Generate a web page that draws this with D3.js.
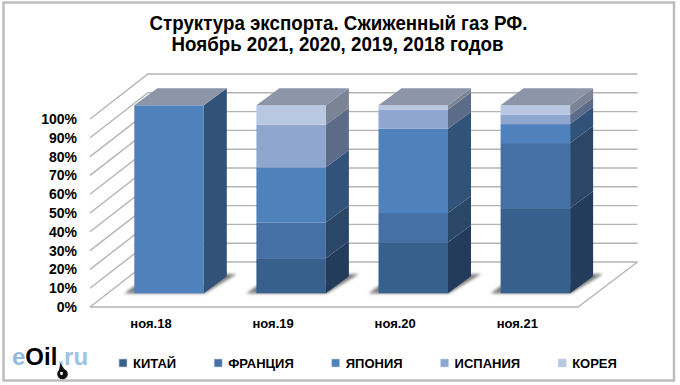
<!DOCTYPE html>
<html><head><meta charset="utf-8">
<script src="https://cdnjs.cloudflare.com/ajax/libs/d3/7.8.5/d3.min.js"></script>
<style>html,body{margin:0;background:#fff}svg{display:block}text{font-family:"Liberation Sans",Arial,sans-serif;fill:#000}</style>
</head><body><svg id="c" width="680" height="385"></svg>
<script>
const categories = ["ноя.18","ноя.19","ноя.20","ноя.21"];
const seriesNames = ["КИТАЙ","ФРАНЦИЯ","ЯПОНИЯ","ИСПАНИЯ","КОРЕЯ"];
const china  = [0, 18.7, 27.2, 45.3];
const france = [0, 19.0, 15.5, 34.6];
const japan  = [100, 29.3, 44.8, 10.1];
const spain  = [0, 22.7, 10.3, 5.0];
const korea  = [0, 10.3, 2.2, 5.0];
const frontColors = ["#38608c","#4470a6","#4f81bd","#8fa6cf","#b9c8e2"];
const sideColors  = ["#243c5c","#2b4768","#315279","#5c6b88","#7a8494"];
const topColor = "#8d95a9";
const titleLines = ["Структура экспорта. Сжиженный газ РФ.","Ноябрь 2021, 2020, 2019, 2018 годов"];
const tickValues = [0,10,20,30,40,50,60,70,80,90,100];

const svg = d3.select("#c");
const defs = svg.append("defs");
defs.append("filter").attr("id","blur").attr("x","-30%").attr("y","-60%").attr("width","160%").attr("height","220%")
  .append("feGaussianBlur").attr("stdDeviation",1.6);

svg.append("rect").attr("x",3.5).attr("y",2.5).attr("width",670.5).attr("height",378)
  .attr("fill","#fff").attr("stroke","#bdbdbd").attr("stroke-width",2.5);

svg.append("g").selectAll("text").data(titleLines).join("text")
  .attr("x",(d,i)=>i?337.5:338.5).attr("y",(d,i)=>30+i*21).attr("text-anchor","middle")
  .attr("font-size",19.5).attr("font-weight","bold").attr("textLength",(d,i)=>i?332:378)
  .attr("lengthAdjust","spacingAndGlyphs").text(d=>d);

// scales
const yFront = d3.scaleLinear().domain([0,100]).range([307,119]);
const wallDx = 58, wallDy = 45;
const floorRight = 578;
const barW = 69.5, barDx = 23, barDy = 17, barLift = 13.7;
const barX = d3.scalePoint().domain(categories).range([134.3,500.6]);

// walls
const grid = svg.append("g").attr("stroke","#b4b4b4").attr("stroke-width",1.4).attr("fill","none");
tickValues.forEach(t=>{
  const y0 = yFront(t);
  grid.append("path").attr("d",d3.line()([[90,y0],[90+wallDx,y0-wallDy],[floorRight+wallDx+1.5,y0-wallDy]]));
});
grid.append("path").attr("d",d3.line()([[90,307],[floorRight,307],[floorRight+wallDx+1.5,307-wallDy]]));

// tick labels
svg.append("g").selectAll("text").data(tickValues).join("text")
  .attr("x",77).attr("y",t=>yFront(t)+5).attr("text-anchor","end")
  .attr("font-size",14).attr("font-weight","bold").text(t=>t+"%");

// bars
const stack = d3.stack().keys([0,1,2,3,4]).value((row,k)=>row[k]);
const rows = categories.map((c,i)=>[china[i],france[i],japan[i],spain[i],korea[i]]);
const layers = stack(rows);
const yBar = v => yFront(v) - barLift;

categories.forEach((c,i)=>{
  const x0 = barX(c), x1 = x0+barW;
  const g = svg.append("g");
  g.append("path").attr("d",d3.line()([[x0-10,293.5],[x1+1,293.5],[x1+barDx+10,274],[x1+barDx-8,274],[x1,286],[x0,286]])+"Z")
    .attr("fill","#555").attr("opacity",.75).attr("filter","url(#blur)");
  layers.forEach((layer,k)=>{
    const [a,b] = layer[i];
    if (b-a<=0) return;
    g.append("path").attr("d",d3.line()([[x1,yBar(a)],[x1+barDx,yBar(a)-barDy],[x1+barDx,yBar(b)-barDy],[x1,yBar(b)]])+"Z")
      .attr("fill",sideColors[k]);
    g.append("rect").attr("x",x0).attr("y",yBar(b)).attr("width",barW).attr("height",yBar(a)-yBar(b))
      .attr("fill",frontColors[k]);
  });
  g.append("path").attr("d",d3.line()([[x0,yBar(100)],[x0+barDx,yBar(100)-barDy],[x1+barDx,yBar(100)-barDy],[x1,yBar(100)]])+"Z")
    .attr("fill",topColor);
  g.append("text").attr("x",x0+16.7).attr("y",327.5).attr("text-anchor","middle")
    .attr("font-size",13).attr("font-weight","bold").text(c);
});

// legend: each entry follows the width of the previous label
const lg = svg.append("g").selectAll("g").data(seriesNames).join("g");
lg.append("rect").attr("x",0).attr("y",359).attr("width",8).attr("height",8)
  .attr("fill",(d,i)=>frontColors[i]).attr("stroke","#c9d3e2").attr("stroke-width",.6);
const lt = lg.append("text").attr("x",14).attr("y",368).attr("font-size",13).attr("font-weight","bold").text(d=>d);
let cursor = 119;
lg.each(function(d,i){
  d3.select(this).attr("transform",`translate(${cursor},0)`);
  cursor += 14 + lt.nodes()[i].getComputedTextLength() + 38;
});

// logo
const logo = svg.append("text").attr("x",12).attr("y",365).attr("font-size",24).attr("font-weight","bold");
logo.append("tspan").style("fill","#8fbbe0").text("e");
logo.append("tspan").style("fill","#000").text("Oil");
logo.append("tspan").style("fill","#9cc4e6").text(".ru");
svg.append("circle").attr("cx",62.5).attr("cy",374).attr("r",5.3).attr("fill","#111");
svg.append("ellipse").attr("cx",61.5).attr("cy",373).attr("rx",1.4).attr("ry",2.2).attr("fill","#fff");
svg.append("path").attr("d","M60.5 363 L58.5 372 L66 372 Z").attr("fill","#111");
</script></body></html>
